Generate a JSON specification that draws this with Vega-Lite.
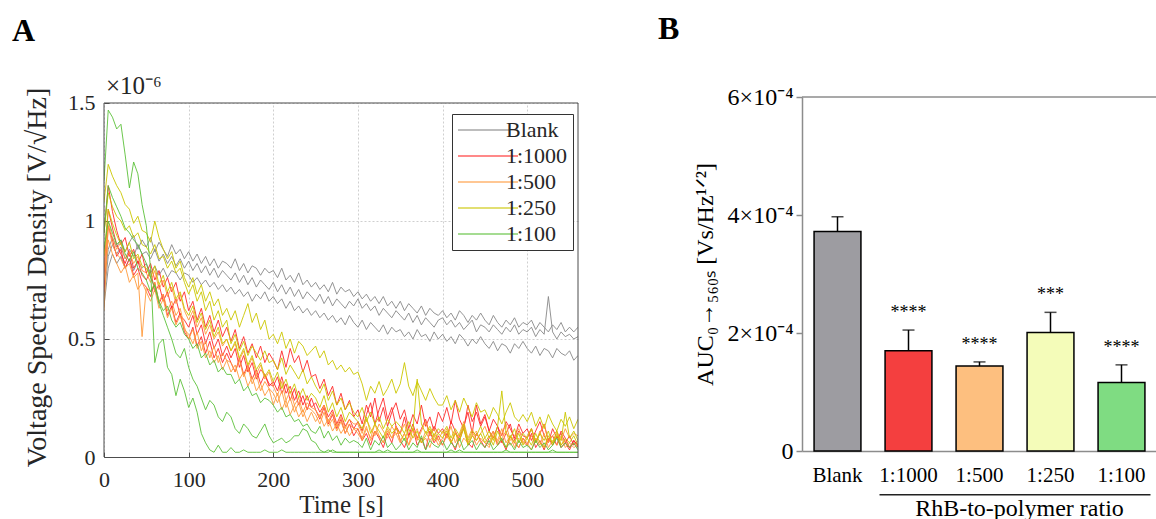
{
  "$schema": "https://vega.github.io/schema/vega-lite/v6.json",
  "padding": {"left": 12, "top": 13, "right": 0, "bottom": 0},
  "autosize": {"type": "pad"},
  "background": "white",
  "config": {"font": "Liberation Serif", "view": {"stroke": null}},
  "spacing": 79,
  "datasets": {
    "series": [
      {"k": "B1", "g": "Blank",
       "t": [0,5,10,15,20,25,30,35,40,45,50,55,60,65,70,75,80,85,90,95,100,105,110,115,120,125,130,135,140,145,150,155,160,165,170,175,180,185,190,195,200,205,210,215,220,225,230,235,240,245,250,255,260,265,270,275,280,285,290,295,300,305,310,315,320,325,330,335,340,345,350,355,360,365,370,375,380,385,390,395,400,405,410,415,420,425,430,435,440,445,450,455,460,465,470,475,480,485,490,495,500,505,510,515,520,525,530,535,540,545,550,555,560],
       "v": [0.74,0.88,0.93,0.89,0.92,0.87,0.91,0.94,0.88,0.92,0.89,0.93,0.87,0.91,0.88,0.85,0.9,0.86,0.88,0.84,0.87,0.83,0.86,0.82,0.85,0.81,0.84,0.8,0.83,0.82,0.8,0.84,0.79,0.82,0.78,0.81,0.8,0.77,0.8,0.78,0.79,0.76,0.8,0.75,0.77,0.74,0.78,0.73,0.75,0.72,0.74,0.71,0.73,0.7,0.74,0.69,0.72,0.7,0.71,0.68,0.7,0.67,0.69,0.66,0.68,0.65,0.68,0.64,0.66,0.63,0.66,0.62,0.65,0.63,0.61,0.64,0.6,0.63,0.61,0.6,0.62,0.59,0.61,0.58,0.62,0.6,0.57,0.6,0.58,0.61,0.58,0.56,0.6,0.57,0.55,0.58,0.56,0.59,0.55,0.57,0.56,0.58,0.54,0.57,0.55,0.53,0.56,0.54,0.57,0.53,0.55,0.53,0.55]},
      {"k": "B2", "g": "Blank",
       "t": [0,5,10,15,20,25,30,35,40,45,50,55,60,65,70,75,80,85,90,95,100,105,110,115,120,125,130,135,140,145,150,155,160,165,170,175,180,185,190,195,200,205,210,215,220,225,230,235,240,245,250,255,260,265,270,275,280,285,290,295,300,305,310,315,320,325,330,335,340,345,350,355,360,365,370,375,380,385,390,395,400,405,410,415,420,425,430,435,440,445,450,455,460,465,470,475,480,485,490,495,500,505,510,515,520,525,530,535,540,545,550,555,560],
       "v": [0.68,0.85,0.9,0.86,0.89,0.84,0.88,0.85,0.9,0.86,0.87,0.84,0.88,0.83,0.86,0.82,0.85,0.81,0.84,0.8,0.83,0.79,0.82,0.78,0.81,0.77,0.8,0.76,0.79,0.77,0.75,0.78,0.74,0.77,0.73,0.76,0.72,0.75,0.73,0.71,0.74,0.7,0.73,0.69,0.72,0.68,0.71,0.67,0.7,0.68,0.66,0.69,0.65,0.68,0.64,0.67,0.65,0.63,0.66,0.64,0.67,0.63,0.65,0.62,0.64,0.6,0.63,0.61,0.59,0.62,0.6,0.58,0.61,0.57,0.6,0.56,0.59,0.57,0.55,0.58,0.59,0.56,0.58,0.55,0.57,0.54,0.56,0.58,0.53,0.56,0.55,0.53,0.56,0.54,0.52,0.55,0.53,0.56,0.52,0.54,0.53,0.55,0.51,0.54,0.52,0.68,0.53,0.5,0.53,0.51,0.52,0.5,0.51]},
      {"k": "B3", "g": "Blank",
       "t": [0,5,10,15,20,25,30,35,40,45,50,55,60,65,70,75,80,85,90,95,100,105,110,115,120,125,130,135,140,145,150,155,160,165,170,175,180,185,190,195,200,205,210,215,220,225,230,235,240,245,250,255,260,265,270,275,280,285,290,295,300,305,310,315,320,325,330,335,340,345,350,355,360,365,370,375,380,385,390,395,400,405,410,415,420,425,430,435,440,445,450,455,460,465,470,475,480,485,490,495,500,505,510,515,520,525,530,535,540,545,550,555,560],
       "v": [0.64,0.8,0.86,0.82,0.85,0.8,0.84,0.79,0.83,0.8,0.82,0.78,0.81,0.77,0.8,0.76,0.79,0.78,0.75,0.78,0.77,0.74,0.76,0.73,0.75,0.72,0.74,0.71,0.73,0.7,0.72,0.69,0.71,0.68,0.7,0.66,0.69,0.67,0.7,0.66,0.68,0.65,0.67,0.63,0.66,0.62,0.64,0.61,0.63,0.6,0.62,0.59,0.61,0.58,0.6,0.57,0.59,0.56,0.6,0.57,0.55,0.58,0.54,0.57,0.55,0.53,0.56,0.52,0.55,0.53,0.54,0.51,0.53,0.5,0.54,0.51,0.52,0.49,0.53,0.5,0.52,0.49,0.51,0.48,0.52,0.5,0.47,0.5,0.48,0.51,0.48,0.46,0.49,0.45,0.48,0.47,0.44,0.48,0.46,0.49,0.46,0.44,0.47,0.43,0.46,0.45,0.42,0.46,0.44,0.43,0.45,0.41,0.43]},
      {"k": "R1", "g": "1:1000",
       "t": [0,5,10,15,20,25,30,35,40,45,50,55,60,65,70,75,80,85,90,95,100,105,110,115,120,125,130,135,140,145,150,155,160,165,170,175,180,185,190,195,200,205,210,215,220,225,230,235,240,245,250,255,260,265,270,275,280,285,290,295,300,305,310,315,320,325,330,335,340,345,350,355,360,365,370,375,380,385,390,395,400,405,410,415,420,425,430,435,440,445,450,455,460,465,470,475,480,485,490,495,500,505,510,515,520,525,530,535,540,545,550,555,560],
       "v": [0.95,1.15,1.04,0.96,0.9,0.93,0.85,0.88,0.82,0.86,0.78,0.82,0.75,0.79,0.72,0.76,0.7,0.74,0.66,0.7,0.62,0.66,0.58,0.63,0.55,0.6,0.53,0.58,0.51,0.55,0.49,0.54,0.46,0.51,0.44,0.48,0.42,0.47,0.4,0.44,0.41,0.37,0.45,0.38,0.46,0.4,0.43,0.36,0.41,0.34,0.35,0.29,0.33,0.26,0.3,0.22,0.27,0.2,0.24,0.17,0.2,0.14,0.22,0.17,0.25,0.15,0.21,0.13,0.19,0.23,0.16,0.2,0.12,0.18,0.14,0.22,0.13,0.17,0.11,0.19,0.15,0.21,0.14,0.24,0.16,0.12,0.22,0.15,0.19,0.13,0.17,0.11,0.16,0.13,0.09,0.15,0.12,0.08,0.14,0.1,0.12,0.07,0.11,0.15,0.09,0.06,0.12,0.08,0.1,0.06,0.09,0.05,0.07]},
      {"k": "R2", "g": "1:1000",
       "t": [0,5,10,15,20,25,30,35,40,45,50,55,60,65,70,75,80,85,90,95,100,105,110,115,120,125,130,135,140,145,150,155,160,165,170,175,180,185,190,195,200,205,210,215,220,225,230,235,240,245,250,255,260,265,270,275,280,285,290,295,300,305,310,315,320,325,330,335,340,345,350,355,360,365,370,375,380,385,390,395,400,405,410,415,420,425,430,435,440,445,450,455,460,465,470,475,480,485,490,495,500,505,510,515,520,525,530,535,540,545,550,555,560],
       "v": [0.78,1.05,0.97,0.9,0.86,0.82,0.87,0.8,0.83,0.77,0.75,0.79,0.7,0.73,0.66,0.7,0.63,0.67,0.6,0.58,0.55,0.6,0.52,0.56,0.48,0.53,0.46,0.5,0.43,0.47,0.42,0.46,0.38,0.43,0.36,0.4,0.33,0.37,0.35,0.31,0.3,0.34,0.27,0.31,0.24,0.29,0.22,0.26,0.2,0.25,0.2,0.16,0.21,0.14,0.18,0.12,0.16,0.1,0.14,0.09,0.12,0.07,0.1,0.05,0.11,0.08,0.04,0.1,0.06,0.13,0.07,0.04,0.09,0.12,0.05,0.08,0.03,0.11,0.06,0.09,0.05,0.1,0.07,0.03,0.09,0.12,0.06,0.04,0.1,0.07,0.04,0.08,0.11,0.05,0.07,0.03,0.09,0.06,0.04,0.08,0.05,0.1,0.04,0.07,0.03,0.08,0.05,0.09,0.04,0.06,0.03,0.07,0.05]},
      {"k": "R3", "g": "1:1000",
       "t": [0,5,10,15,20,25,30,35,40,45,50,55,60,65,70,75,80,85,90,95,100,105,110,115,120,125,130,135,140,145,150,155,160,165,170,175,180,185,190,195,200,205,210,215,220,225,230,235,240,245,250,255,260,265,270,275,280,285,290,295,300,305,310,315,320,325,330,335,340,345,350,355,360,365,370,375,380,385,390,395,400,405,410,415,420,425,430,435,440,445,450,455,460,465,470,475,480,485,490,495,500,505,510,515,520,525,530,535,540,545,550,555,560],
       "v": [0.7,0.98,0.92,0.85,0.88,0.8,0.84,0.77,0.8,0.74,0.72,0.68,0.74,0.65,0.69,0.6,0.64,0.57,0.61,0.53,0.5,0.55,0.47,0.51,0.44,0.49,0.42,0.46,0.4,0.44,0.4,0.36,0.42,0.35,0.39,0.33,0.37,0.31,0.35,0.3,0.32,0.28,0.34,0.27,0.3,0.24,0.28,0.22,0.26,0.21,0.23,0.19,0.22,0.17,0.2,0.14,0.18,0.13,0.16,0.12,0.15,0.11,0.18,0.23,0.14,0.2,0.25,0.16,0.21,0.13,0.1,0.17,0.09,0.14,0.08,0.12,0.16,0.09,0.13,0.1,0.12,0.08,0.15,0.11,0.07,0.13,0.19,0.1,0.22,0.14,0.18,0.11,0.08,0.13,0.06,0.1,0.14,0.07,0.11,0.09,0.08,0.12,0.06,0.1,0.14,0.07,0.09,0.05,0.11,0.08,0.04,0.07,0.04]},
      {"k": "O1", "g": "1:500",
       "t": [0,5,10,15,20,25,30,35,40,45,50,55,60,65,70,75,80,85,90,95,100,105,110,115,120,125,130,135,140,145,150,155,160,165,170,175,180,185,190,195,200,205,210,215,220,225,230,235,240,245,250,255,260,265,270,275,280,285,290,295,300,305,310,315,320,325,330,335,340,345,350,355,360,365,370,375,380,385,390,395,400,405,410,415,420,425,430,435,440,445,450,455,460,465,470,475,480,485,490,495,500,505,510,515,520,525,530,535,540,545,550,555,560],
       "v": [0.62,0.98,0.9,0.86,0.84,0.8,0.82,0.76,0.78,0.51,0.72,0.7,0.74,0.66,0.69,0.62,0.66,0.6,0.63,0.55,0.5,0.54,0.46,0.49,0.42,0.45,0.4,0.43,0.37,0.41,0.36,0.39,0.33,0.36,0.3,0.34,0.28,0.31,0.26,0.29,0.22,0.27,0.2,0.24,0.18,0.22,0.17,0.2,0.15,0.19,0.15,0.18,0.13,0.16,0.11,0.14,0.1,0.13,0.09,0.12,0.1,0.07,0.12,0.08,0.14,0.09,0.06,0.11,0.08,0.13,0.07,0.1,0.05,0.12,0.08,0.06,0.11,0.07,0.09,0.05,0.08,0.12,0.06,0.1,0.07,0.13,0.05,0.09,0.11,0.06,0.08,0.05,0.1,0.07,0.12,0.06,0.09,0.04,0.08,0.06,0.05,0.09,0.06,0.11,0.04,0.08,0.06,0.1,0.05,0.07,0.04,0.06,0.05]},
      {"k": "O2", "g": "1:500",
       "t": [0,5,10,15,20,25,30,35,40,45,50,55,60,65,70,75,80,85,90,95,100,105,110,115,120,125,130,135,140,145,150,155,160,165,170,175,180,185,190,195,200,205,210,215,220,225,230,235,240,245,250,255,260,265,270,275,280,285,290,295,300,305,310,315,320,325,330,335,340,345,350,355,360,365,370,375,380,385,390,395,400,405,410,415,420,425,430,435,440,445,450,455,460,465,470,475,480,485,490,495,500,505,510,515,520,525,530,535,540,545,550,555,560],
       "v": [0.8,1.0,0.93,0.88,0.91,0.84,0.87,0.82,0.85,0.79,0.78,0.74,0.79,0.71,0.75,0.68,0.72,0.65,0.69,0.62,0.58,0.62,0.55,0.59,0.52,0.56,0.5,0.53,0.47,0.5,0.45,0.48,0.41,0.45,0.38,0.42,0.35,0.39,0.33,0.36,0.3,0.26,0.32,0.24,0.28,0.22,0.25,0.19,0.23,0.21,0.2,0.17,0.22,0.15,0.19,0.13,0.17,0.12,0.16,0.14,0.14,0.1,0.16,0.12,0.09,0.14,0.11,0.08,0.13,0.1,0.1,0.14,0.08,0.12,0.07,0.11,0.15,0.09,0.12,0.07,0.11,0.08,0.13,0.06,0.1,0.15,0.08,0.12,0.07,0.1,0.13,0.08,0.11,0.06,0.1,0.14,0.07,0.09,0.12,0.06,0.09,0.12,0.07,0.1,0.14,0.06,0.09,0.11,0.07,0.12,0.08,0.1,0.09]},
      {"k": "O3", "g": "1:500",
       "t": [0,5,10,15,20,25,30,35,40,45,50,55,60,65,70,75,80,85,90,95,100,105,110,115,120,125,130,135,140,145,150,155,160,165,170,175,180,185,190,195,200,205,210,215,220,225,230,235,240,245,250,255,260,265,270,275,280,285,290,295,300,305,310,315,320,325,330,335,340,345,350,355,360,365,370,375,380,385,390,395,400,405,410,415,420,425,430,435,440,445,450,455,460,465,470,475,480,485,490,495,500,505,510,515,520,525,530,535,540,545,550,555,560],
       "v": [0.75,0.92,0.86,0.82,0.78,0.81,0.74,0.77,0.71,0.74,0.7,0.66,0.71,0.63,0.67,0.59,0.63,0.56,0.6,0.54,0.52,0.48,0.53,0.45,0.49,0.42,0.47,0.4,0.44,0.41,0.4,0.36,0.41,0.34,0.38,0.31,0.35,0.28,0.32,0.29,0.27,0.23,0.28,0.21,0.25,0.19,0.23,0.17,0.21,0.2,0.18,0.14,0.19,0.13,0.16,0.11,0.15,0.1,0.14,0.12,0.12,0.08,0.13,0.07,0.11,0.09,0.06,0.12,0.08,0.1,0.06,0.1,0.05,0.09,0.12,0.06,0.08,0.04,0.1,0.07,0.05,0.09,0.06,0.11,0.04,0.08,0.06,0.1,0.05,0.08,0.06,0.04,0.09,0.05,0.08,0.11,0.05,0.07,0.04,0.08,0.06,0.03,0.08,0.05,0.1,0.04,0.07,0.05,0.09,0.04,0.06,0.04,0.05]},
      {"k": "Y1", "g": "1:250",
       "t": [0,5,10,15,20,25,30,35,40,45,50,55,60,65,70,75,80,85,90,95,100,105,110,115,120,125,130,135,140,145,150,155,160,165,170,175,180,185,190,195,200,205,210,215,220,225,230,235,240,245,250,255,260,265,270,275,280,285,290,295,300,305,310,315,320,325,330,335,340,345,350,355,360,365,370,375,380,385,390,395,400,405,410,415,420,425,430,435,440,445,450,455,460,465,470,475,480,485,490,495,500,505,510,515,520,525,530,535,540,545,550,555,560],
       "v": [1.08,1.24,1.19,1.15,1.12,1.07,1.05,0.99,1.02,0.96,0.95,0.91,1.0,0.93,0.88,0.84,0.87,0.8,0.83,0.76,0.72,0.76,0.69,0.73,0.66,0.7,0.64,0.67,0.6,0.63,0.58,0.62,0.55,0.6,0.65,0.57,0.61,0.54,0.58,0.5,0.52,0.48,0.53,0.46,0.5,0.44,0.49,0.47,0.43,0.45,0.47,0.42,0.45,0.39,0.41,0.37,0.39,0.36,0.38,0.35,0.36,0.31,0.24,0.3,0.27,0.32,0.26,0.29,0.33,0.27,0.31,0.4,0.3,0.26,0.32,0.28,0.24,0.29,0.25,0.22,0.22,0.26,0.2,0.24,0.19,0.25,0.21,0.17,0.23,0.19,0.2,0.16,0.21,0.18,0.14,0.19,0.23,0.17,0.15,0.18,0.15,0.19,0.13,0.17,0.12,0.18,0.14,0.11,0.16,0.13,0.17,0.12,0.16]},
      {"k": "Y2", "g": "1:250",
       "t": [0,5,10,15,20,25,30,35,40,45,50,55,60,65,70,75,80,85,90,95,100,105,110,115,120,125,130,135,140,145,150,155,160,165,170,175,180,185,190,195,200,205,210,215,220,225,230,235,240,245,250,255,260,265,270,275,280,285,290,295,300,305,310,315,320,325,330,335,340,345,350,355,360,365,370,375,380,385,390,395,400,405,410,415,420,425,430,435,440,445,450,455,460,465,470,475,480,485,490,495,500,505,510,515,520,525,530,535,540,545,550,555,560],
       "v": [0.95,1.12,1.06,1.02,1.0,0.96,0.98,0.93,0.95,0.9,0.89,0.86,0.9,0.84,0.85,0.8,0.83,0.78,0.8,0.74,0.69,0.73,0.66,0.7,0.62,0.66,0.58,0.62,0.55,0.58,0.48,0.52,0.45,0.49,0.43,0.47,0.44,0.41,0.45,0.4,0.41,0.37,0.42,0.35,0.39,0.36,0.33,0.37,0.31,0.34,0.3,0.27,0.31,0.24,0.28,0.22,0.25,0.2,0.23,0.19,0.17,0.21,0.15,0.19,0.14,0.17,0.12,0.16,0.13,0.15,0.13,0.1,0.15,0.11,0.33,0.14,0.1,0.13,0.09,0.12,0.1,0.13,0.08,0.12,0.09,0.14,0.07,0.11,0.09,0.13,0.08,0.11,0.07,0.13,0.28,0.1,0.08,0.12,0.06,0.1,0.08,0.12,0.06,0.1,0.07,0.11,0.05,0.09,0.07,0.19,0.08,0.11,0.07]},
      {"k": "Y3", "g": "1:250",
       "t": [0,5,10,15,20,25,30,35,40,45,50,55,60,65,70,75,80,85,90,95,100,105,110,115,120,125,130,135,140,145,150,155,160,165,170,175,180,185,190,195,200,205,210,215,220,225,230,235,240,245,250,255,260,265,270,275,280,285,290,295,300,305,310,315,320,325,330,335,340,345,350,355,360,365,370,375,380,385,390,395,400,405,410,415,420,425,430,435,440,445,450,455,460,465,470,475,480,485,490,495,500,505,510,515,520,525,530,535,540,545,550,555,560],
       "v": [0.85,1.05,0.99,0.94,0.9,0.87,0.91,0.84,0.86,0.81,0.8,0.76,0.81,0.73,0.77,0.7,0.74,0.67,0.7,0.63,0.6,0.64,0.57,0.61,0.54,0.58,0.51,0.55,0.48,0.5,0.45,0.49,0.42,0.46,0.39,0.43,0.37,0.4,0.34,0.37,0.32,0.36,0.29,0.33,0.27,0.31,0.25,0.29,0.24,0.27,0.25,0.21,0.26,0.19,0.23,0.17,0.21,0.15,0.19,0.17,0.15,0.12,0.17,0.1,0.14,0.11,0.08,0.13,0.1,0.12,0.1,0.07,0.12,0.08,0.11,0.06,0.09,0.12,0.07,0.1,0.08,0.11,0.06,0.1,0.07,0.12,0.05,0.09,0.07,0.1,0.06,0.09,0.05,0.11,0.07,0.04,0.09,0.06,0.1,0.05,0.08,0.05,0.1,0.06,0.04,0.09,0.06,0.11,0.05,0.08,0.06,0.09,0.05]},
      {"k": "G1", "g": "1:100",
       "t": [0,5,10,15,20,25,30,35,40,45,50,55,60,65,70,75,80,85,90,95,100,105,110,115,120,125,130,135,140,145,150,155,160,165,170,175,180,185,190,195,200,205,210,215,220,225,230,235,240,245,250,255,260,265,270,275,280,285,290,295,300,305,310,315,320,325,330,335,340,345,350,355,360,365,370,375,380,385,390,395,400,405,410,415,420,425,430,435,440,445,450,455,460,465,470,475,480,485,490,495,500,505,510,515,520,525,530,535,540,545,550,555,560],
       "v": [1.17,1.47,1.44,1.39,1.41,1.28,1.14,1.25,1.2,1.07,0.98,0.8,0.4,0.48,0.5,0.38,0.35,0.26,0.33,0.28,0.21,0.25,0.19,0.1,0.06,0.03,0.02,0.05,0.02,0.02,0.04,0.02,0.02,0.03,0.02,0.02,0.02,0.02,0.03,0.02,0.02,0.02,0.03,0.02,0.02,0.02,0.02,0.02,0.02,0.02,0.02,0.02,0.02,0.03,0.02,0.02,0.02,0.02,0.02,0.02,0.02,0.02,0.02,0.02,0.02,0.03,0.02,0.02,0.02,0.02,0.02,0.02,0.02,0.02,0.03,0.02,0.02,0.02,0.02,0.02,0.02,0.02,0.03,0.02,0.02,0.02,0.02,0.02,0.02,0.02,0.02,0.02,0.02,0.02,0.02,0.03,0.02,0.02,0.02,0.02,0.02,0.02,0.02,0.02,0.02,0.02,0.03,0.02,0.02,0.02,0.02,0.02,0.02]},
      {"k": "G2", "g": "1:100",
       "t": [0,5,10,15,20,25,30,35,40,45,50,55,60,65,70,75,80,85,90,95,100,105,110,115,120,125,130,135,140,145,150,155,160,165,170,175,180,185,190,195,200,205,210,215,220,225,230,235,240,245,250,255,260,265,270,275,280,285,290,295,300,305,310,315,320,325,330,335,340,345,350,355,360,365,370,375,380,385,390,395,400,405,410,415,420,425,430,435,440,445,450,455,460,465,470,475,480,485,490,495,500,505,510,515,520,525,530,535,540,545,550,555,560],
       "v": [0.95,1.15,1.1,1.06,1.02,0.97,0.95,0.92,0.9,0.86,0.82,0.76,0.72,0.65,0.6,0.55,0.5,0.44,0.42,0.46,0.38,0.33,0.3,0.25,0.2,0.24,0.22,0.17,0.15,0.19,0.17,0.12,0.1,0.14,0.12,0.09,0.08,0.11,0.14,0.09,0.06,0.07,0.08,0.06,0.07,0.09,0.09,0.12,0.11,0.07,0.06,0.03,0.02,0.02,0.03,0.02,0.02,0.02,0.02,0.02,0.02,0.02,0.02,0.02,0.02,0.02,0.02,0.03,0.02,0.02,0.02,0.02,0.02,0.02,0.02,0.02,0.02,0.02,0.02,0.02,0.02,0.02,0.02,0.02,0.03,0.02,0.02,0.02,0.02,0.02,0.02,0.02,0.02,0.02,0.02,0.02,0.02,0.02,0.02,0.02,0.02,0.02,0.02,0.02,0.02,0.02,0.02,0.02,0.02,0.02,0.02,0.02,0.02]},
      {"k": "G3", "g": "1:100",
       "t": [0,5,10,15,20,25,30,35,40,45,50,55,60,65,70,75,80,85,90,95,100,105,110,115,120,125,130,135,140,145,150,155,160,165,170,175,180,185,190,195,200,205,210,215,220,225,230,235,240,245,250,255,260,265,270,275,280,285,290,295,300,305,310,315,320,325,330,335,340,345,350,355,360,365,370,375,380,385,390,395,400,405,410,415,420,425,430,435,440,445,450,455,460,465,470,475,480,485,490,495,500,505,510,515,520,525,530,535,540,545,550,555,560],
       "v": [0.88,1.0,0.95,0.9,0.92,0.86,0.83,0.87,0.8,0.78,0.75,0.7,0.73,0.66,0.62,0.64,0.58,0.55,0.57,0.52,0.5,0.46,0.48,0.42,0.44,0.39,0.41,0.36,0.38,0.35,0.35,0.31,0.33,0.28,0.3,0.26,0.27,0.23,0.25,0.24,0.22,0.19,0.21,0.17,0.18,0.15,0.16,0.13,0.14,0.11,0.1,0.13,0.08,0.11,0.07,0.09,0.05,0.08,0.06,0.07,0.06,0.04,0.08,0.03,0.07,0.05,0.09,0.04,0.06,0.03,0.05,0.08,0.03,0.06,0.04,0.09,0.03,0.07,0.05,0.04,0.07,0.03,0.06,0.04,0.08,0.03,0.05,0.07,0.03,0.06,0.04,0.07,0.03,0.05,0.08,0.04,0.06,0.03,0.07,0.04,0.05,0.03,0.07,0.04,0.06,0.03,0.05,0.08,0.04,0.06,0.04,0.06,0.03]}
    ],
    "bars": [
      {"g": "Blank", "m": 0.000372, "e": 0.000397, "s": ""},
      {"g": "1:1000", "m": 0.000170, "e": 0.000205, "s": "****"},
      {"g": "1:500", "m": 0.000144, "e": 0.000151, "s": "****"},
      {"g": "1:250", "m": 0.000201, "e": 0.000235, "s": "***"},
      {"g": "1:100", "m": 0.000116, "e": 0.000146, "s": "****"}
    ]
  },
  "hconcat": [
    {
      "title": {"text": "A", "anchor": "start", "frame": "group", "dx": -92, "fontSize": 32, "fontWeight": "bold", "color": "black", "offset": 26},
      "width": 474,
      "height": 360,
      "layer": [
        {
          "data": {"values": [{}]},
          "mark": {"type": "rect", "color": "white", "strokeWidth": 0},
          "encoding": {
            "x": {"datum": 0, "type": "quantitative", "scale": {"domain": [0, 560], "nice": false}},
            "x2": {"datum": 560},
            "y": {"datum": 1.5, "type": "quantitative", "scale": {"domain": [0, 1.52542], "nice": false}},
            "y2": {"datum": 1.5254}
          }
        },
        {
          "data": {"name": "series"},
          "transform": [{"flatten": ["t", "v"]}],
          "mark": {"type": "line", "strokeWidth": 1, "opacity": 0.9, "clip": true},
          "encoding": {
            "x": {"field": "t", "type": "quantitative",
                  "scale": {"domain": [0, 560], "nice": false},
                  "axis": {"values": [0, 100, 200, 300, 400, 500], "title": "Time [s]", "titleFontSize": 25, "titleFontWeight": "normal", "titleColor": "#262626", "titlePadding": 2,
                           "labelFontSize": 22, "labelColor": "#262626", "labelFlush": false, "labelPadding": 17,
                           "domain": true, "domainColor": "#4d4d4d", "domainWidth": 1,
                           "tickSize": -5, "tickColor": "#4d4d4d",
                           "grid": true, "gridDash": [2, 2], "gridColor": "#cfcfcf"}},
            "y": {"field": "v", "type": "quantitative",
                  "scale": {"domain": [0, 1.52542], "nice": false},
                  "axis": {"values": [0, 0.5, 1, 1.5], "labelExpr": "datum.value", "title": "Voltage Spectral Density [V/√Hz]", "titleFontSize": 28, "titleFontWeight": "normal", "titleColor": "#262626", "titlePadding": 16,
                           "labelFontSize": 22, "labelColor": "#262626", "labelFlush": false, "labelPadding": 14, "domain": false,
                           "tickSize": -5, "tickColor": "#4d4d4d",
                           "grid": true, "gridDash": [2, 2], "gridColor": "#cfcfcf"}},
            "color": {"field": "g", "type": "nominal",
                      "scale": {"domain": ["Blank", "1:1000", "1:500", "1:250", "1:100"], "range": ["#888888", "#ff2a2a", "#ff9a3c", "#cbc600", "#5cc13a"]},
                      "legend": {"title": null, "orient": "none", "legendX": 348, "legendY": 17, "fillColor": "white", "strokeColor": "#333333", "padding": 5,
                                 "symbolType": "M-1,0H5", "symbolSize": 400, "symbolStrokeWidth": 2, "symbolOpacity": 0.55,
                                 "labelFontSize": 22, "labelColor": "#262626", "rowPadding": 4, "labelOffset": 27}},
            "detail": {"field": "k"}
          }
        },
        {
          "data": {"values": [{}]},
          "mark": {"type": "rule", "color": "#4d4d4d", "strokeWidth": 1},
          "encoding": {
            "y": {"datum": 1.5, "type": "quantitative", "scale": {"domain": [0, 1.52542], "nice": false}}
          }
        },
        {
          "data": {"values": [{}]},
          "mark": {"type": "rule", "color": "#4d4d4d", "strokeWidth": 1},
          "encoding": {
            "x": {"datum": 0, "type": "quantitative", "scale": {"domain": [0, 560], "nice": false}},
            "y": {"datum": 0, "type": "quantitative", "scale": {"domain": [0, 1.52542], "nice": false}},
            "y2": {"datum": 1.5}
          }
        },
        {
          "data": {"values": [{}]},
          "mark": {"type": "rule", "color": "#4d4d4d", "strokeWidth": 1},
          "encoding": {
            "x": {"datum": 560, "type": "quantitative", "scale": {"domain": [0, 560], "nice": false}},
            "y": {"datum": 0, "type": "quantitative", "scale": {"domain": [0, 1.52542], "nice": false}},
            "y2": {"datum": 1.5}
          }
        },
        {
          "data": {"values": [{}]},
          "mark": {"type": "text", "align": "left", "baseline": "bottom", "dx": 2, "dy": -4, "fontSize": 25, "color": "#262626"},
          "encoding": {
            "x": {"datum": 0, "type": "quantitative", "scale": {"domain": [0, 560], "nice": false}},
            "y": {"datum": 1.5, "type": "quantitative", "scale": {"domain": [0, 1.52542], "nice": false}},
            "text": {"value": "×10⁻⁶"}
          }
        }
      ]
    },
    {
      "title": {"text": "B", "anchor": "start", "frame": "group", "dx": -144, "fontSize": 32, "fontWeight": "bold", "color": "black", "offset": 39},
      "width": 355,
      "height": 354,
      "layer": [
        {
          "data": {"values": [{}]},
          "mark": {"type": "rule", "color": "#8c8c8c", "strokeWidth": 1.5},
          "encoding": {"y": {"datum": 0.0006, "type": "quantitative", "scale": {"domain": [0, 0.0006], "nice": false}}}
        },
        {
          "data": {"name": "bars"},
          "mark": {"type": "rule", "color": "black", "strokeWidth": 1.5},
          "encoding": {
            "x": {"field": "g", "type": "nominal", "sort": ["Blank", "1:1000", "1:500", "1:250", "1:100"], "title": "RhB-to-polymer ratio"},
            "y": {"field": "m", "type": "quantitative", "scale": {"domain": [0, 0.0006], "nice": false}, "title": "AUC₀→₅₆₀ₛ [Vs/Hz¹ᐟ²]"},
            "y2": {"field": "e"}
          }
        },
        {
          "data": {"name": "bars"},
          "mark": {"type": "bar", "stroke": "black", "strokeWidth": 1.5},
          "encoding": {
            "x": {"field": "g", "type": "nominal", "sort": ["Blank", "1:1000", "1:500", "1:250", "1:100"], "title": "RhB-to-polymer ratio",
                  "scale": {"paddingInner": 0.34, "paddingOuter": 0.17},
                  "axis": {"labelAngle": 0, "labelAlign": "center", "labelBaseline": "top", "labelFontSize": 21, "labelColor": "black", "labelPadding": 13, "ticks": false,
                           "domainColor": "#8c8c8c", "domainWidth": 1.5,
                           "titleFontSize": 24, "titleFontWeight": "normal", "titleColor": "black", "titleX": 217, "titleY": 64, "titleBaseline": "alphabetic"}},
            "y": {"field": "m", "type": "quantitative", "scale": {"domain": [0, 0.0006], "nice": false}, "title": "AUC₀→₅₆₀ₛ [Vs/Hz¹ᐟ²]",
                  "axis": {"values": [0, 0.0002, 0.0004, 0.0006], "labelExpr": "datum.value == 0 ? '0' : round(datum.value * 10000) + '×10⁻⁴'",
                           "labelFontSize": 24, "labelColor": "black", "labelPadding": 3, "tickSize": 6, "tickColor": "#8c8c8c", "tickWidth": 1.5,
                           "domainColor": "#8c8c8c", "domainWidth": 1.5, "grid": false,
                           "titleFontSize": 24, "titleFontWeight": "normal", "titleColor": "black", "titlePadding": 10}},
            "fill": {"field": "g", "type": "nominal",
                     "scale": {"domain": ["Blank", "1:1000", "1:500", "1:250", "1:100"], "range": ["#9d9ca1", "#f43f3f", "#fdbf7f", "#f4fcb9", "#7fdc82"]},
                     "legend": null}
          }
        },
        {
          "data": {"name": "bars"},
          "mark": {"type": "tick", "color": "black", "thickness": 1.5, "size": 12},
          "encoding": {
            "x": {"field": "g", "type": "nominal", "sort": ["Blank", "1:1000", "1:500", "1:250", "1:100"], "title": "RhB-to-polymer ratio"},
            "y": {"field": "e", "type": "quantitative", "scale": {"domain": [0, 0.0006], "nice": false}, "title": "AUC₀→₅₆₀ₛ [Vs/Hz¹ᐟ²]"}
          }
        },
        {
          "data": {"name": "bars"},
          "mark": {"type": "text", "fontSize": 18, "baseline": "alphabetic", "dy": -12, "color": "black"},
          "encoding": {
            "x": {"field": "g", "type": "nominal", "sort": ["Blank", "1:1000", "1:500", "1:250", "1:100"], "title": "RhB-to-polymer ratio"},
            "y": {"field": "e", "type": "quantitative", "scale": {"domain": [0, 0.0006], "nice": false}, "title": "AUC₀→₅₆₀ₛ [Vs/Hz¹ᐟ²]"},
            "text": {"field": "s"}
          }
        },
        {
          "data": {"values": [{}]},
          "mark": {"type": "rule", "color": "#222222", "strokeWidth": 1.5, "xOffset": -29, "x2Offset": 29},
          "encoding": {
            "x": {"datum": "1:1000", "type": "nominal"},
            "x2": {"datum": "1:100"},
            "y": {"datum": -0.000074, "type": "quantitative", "scale": {"domain": [0, 0.0006], "nice": false}}
          }
        }
      ]
    }
  ],
  "resolve": {"scale": {"color": "independent", "fill": "independent"}}
}
